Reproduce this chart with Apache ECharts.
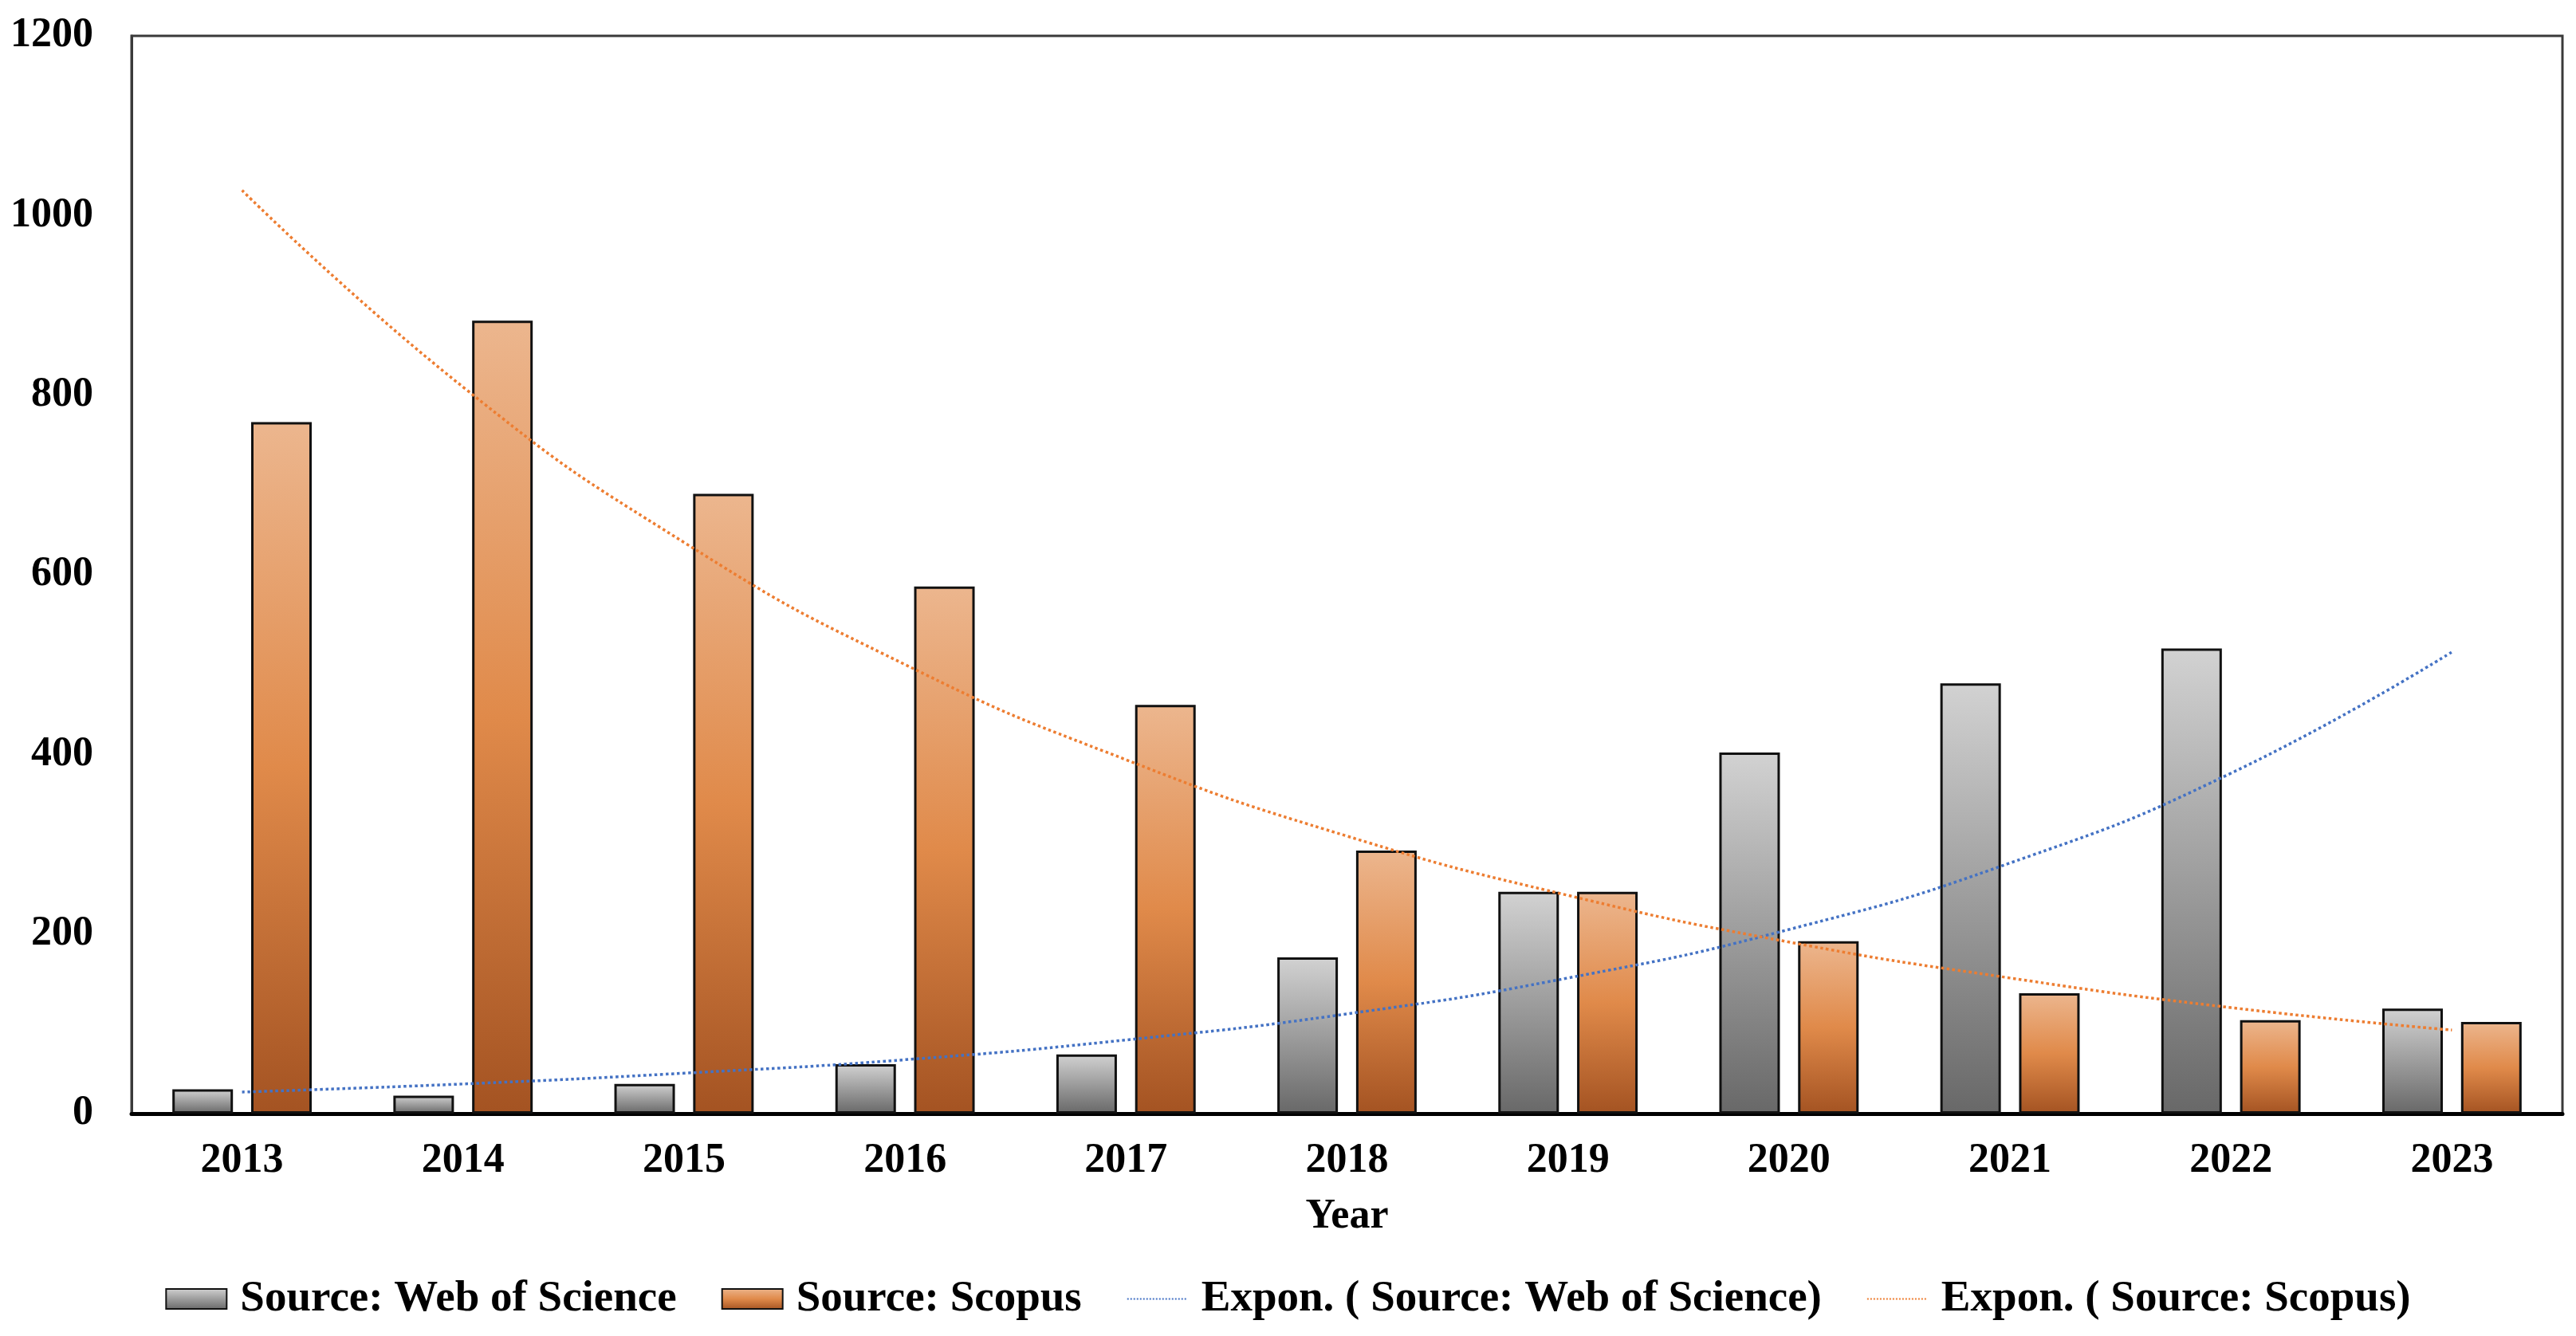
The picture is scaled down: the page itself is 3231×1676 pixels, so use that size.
<!DOCTYPE html>
<html><head><meta charset="utf-8">
<script src="https://cdn.jsdelivr.net/npm/echarts@6/dist/echarts.min.js"></script>
<style>html,body{margin:0;padding:0;background:#fff}#c{width:3231px;height:1676px}</style>
</head><body><div id="c"></div>
<script>
const years = ['2013','2014','2015','2016','2017','2018','2019','2020','2021','2022','2023'];
const wos = [27,20,33,55,66,174,247,402,479,518,117];
const scopus = [770,883,690,587,455,293,247,192,134,104,102];
const trendWos = [24,33,45,60,82,111,151,205,279,379,514];
const trendScopus = [1028,809,636,500,394,309,243,191,151,118,93];
const yTicks = {min:0, max:1200, interval:200};

const FONT = '"Liberation Serif", "DejaVu Serif", serif';
const grayGrad = {type:'linear',x:0,y:0,x2:0,y2:1,colorStops:[{offset:0,color:'#d2d2d2'},{offset:1,color:'#686868'}]};
const orangeGrad = {type:'linear',x:0,y:0,x2:0,y2:1,colorStops:[{offset:0,color:'#ecb68e'},{offset:0.5,color:'#e08a4a'},{offset:1,color:'#a45322'}]};

const chart = echarts.init(document.getElementById('c'));
chart.setOption({
  backgroundColor:'#fff',
  animation:false,
  grid:{left:165,right:17,top:45,bottom:279,show:true,borderColor:'#3a3a3a',borderWidth:3,backgroundColor:'transparent'},
  legend:{
    bottom:14,left:'center',
    itemWidth:76,itemHeight:25,itemGap:56,
    textStyle:{fontFamily:FONT,fontWeight:'bold',fontSize:55,color:'#000',padding:[0,0,0,12]},
    data:[
      {name:'Source: Web of Science',icon:'rect'},
      {name:'Source: Scopus',icon:'rect'},
      {name:'Expon. ( Source: Web of Science)',itemStyle:{opacity:0}},
      {name:'Expon. ( Source: Scopus)',itemStyle:{opacity:0}}
    ]
  },
  xAxis:{
    type:'category',data:years,
    name:'Year',nameLocation:'middle',nameGap:104,
    nameTextStyle:{fontFamily:FONT,fontWeight:'bold',fontSize:52,color:'#000'},
    axisLine:{lineStyle:{color:'#000',width:5}},
    axisTick:{show:false},
    axisLabel:{fontFamily:FONT,fontWeight:'bold',fontSize:52,color:'#000',margin:34}
  },
  yAxis:{
    type:'value',min:yTicks.min,max:yTicks.max,interval:yTicks.interval,
    splitLine:{show:false},
    axisLine:{show:true,lineStyle:{color:'#3a3a3a',width:3}},
    axisTick:{show:false},
    axisLabel:{fontFamily:FONT,fontWeight:'bold',fontSize:52,color:'#000',margin:48,formatter:v=>String(v)}
  },
  series:[
    {name:'Source: Web of Science',type:'bar',data:wos,barWidth:76,barGap:'30%',
     itemStyle:{color:grayGrad,borderColor:'#111',borderWidth:3}},
    {name:'Source: Scopus',type:'bar',data:scopus,barWidth:76,barGap:'30%',
     itemStyle:{color:orangeGrad,borderColor:'#111',borderWidth:3}},
    {name:'Expon. ( Source: Web of Science)',type:'line',data:trendWos,smooth:true,symbol:'none',
     lineStyle:{color:'#4472c4',width:3.5,type:'dotted'},itemStyle:{color:'#4472c4'},z:5},
    {name:'Expon. ( Source: Scopus)',type:'line',data:trendScopus,smooth:true,symbol:'none',
     lineStyle:{color:'#ed7d31',width:3.5,type:'dotted'},itemStyle:{color:'#ed7d31'},z:5}
  ]
});
</script></body></html>
